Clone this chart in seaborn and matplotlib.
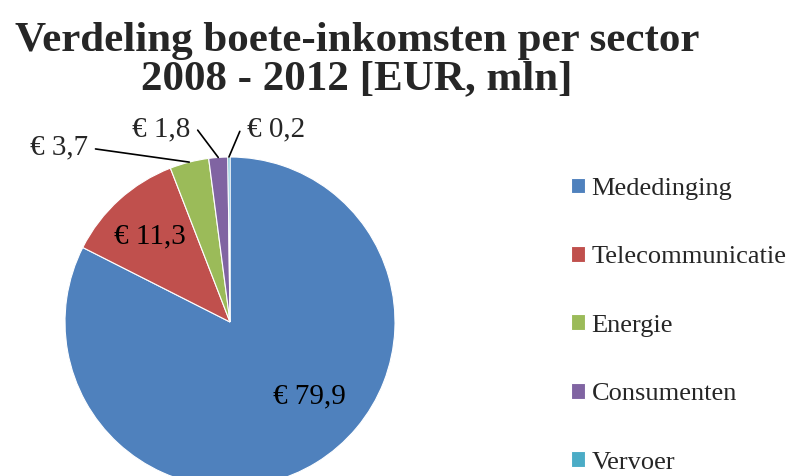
import numpy as np
import matplotlib.pyplot as plt
import seaborn as sns

# Boete-inkomsten per sector, 2008 - 2012 (EUR, mln)
sectors = ["Mededinging", "Telecommunicatie", "Energie", "Consumenten", "Vervoer"]
amounts = [79.9, 11.3, 3.7, 1.8, 0.2]
colors = ["#4F81BD", "#C0504D", "#9BBB59", "#8064A2", "#4BACC6"]

# label placement: inside labels (radius, angle) and outside labels (text position)
inside = {0: (0.66, -43), 1: (0.71, 133)}
outside = {2: ((-0.86, 1.06), 1.0, -8), 3: ((-0.24, 1.17), 1.0, -53), 4: ((0.10, 1.17), 0.0, 67)}

sns.set_theme(style="white")
plt.rcParams["font.family"] = ["Liberation Serif", "DejaVu Serif"]

fig = plt.figure(figsize=(7.92, 4.76), dpi=100)
ax = fig.add_axes([65 / 792, -11 / 476, 330 / 792, 330 / 476])

wedges, _ = ax.pie(amounts, colors=colors, startangle=90, counterclock=False,
                   wedgeprops=dict(edgecolor="white", linewidth=0.8))
ax.set_xlim(-1, 1)
ax.set_ylim(-1, 1)

def fmt(v):
    return "€ " + f"{v:.1f}".replace(".", ",")

for i, (r, a) in inside.items():
    ax.text(r * np.cos(np.radians(a)), r * np.sin(np.radians(a)), fmt(amounts[i]),
            ha="center", va="center", fontsize=21, color="black")

for i, (pos, rel, angB) in outside.items():
    w = wedges[i]
    mid = np.radians((w.theta1 + w.theta2) / 2)
    ax.annotate(fmt(amounts[i]), xy=(np.cos(mid), np.sin(mid)), xytext=pos,
                ha="right" if rel == 1.0 else "left", va="center", fontsize=21,
                annotation_clip=False,
                arrowprops=dict(arrowstyle="-", color="black", lw=1.2, relpos=(rel, 0.5),
                                shrinkA=3, shrinkB=0,
                                connectionstyle=f"angle,angleA=0,angleB={angB},rad=0"))

fig.text(357 / 792, 1 - 22 / 476, "Verdeling boete-inkomsten per sector\n2008 - 2012 [EUR, mln]",
         ha="center", va="top", fontsize=31, fontweight="bold", linespacing=1.0)

fig.legend(wedges, sectors, loc="upper left", bbox_to_anchor=(560 / 792, 1 - 167 / 476),
           frameon=False, fontsize=19, handlelength=0.55, handleheight=0.55,
           handletextpad=0.25, labelspacing=1.75, borderaxespad=0)

fig.savefig("out.png", dpi=100)
